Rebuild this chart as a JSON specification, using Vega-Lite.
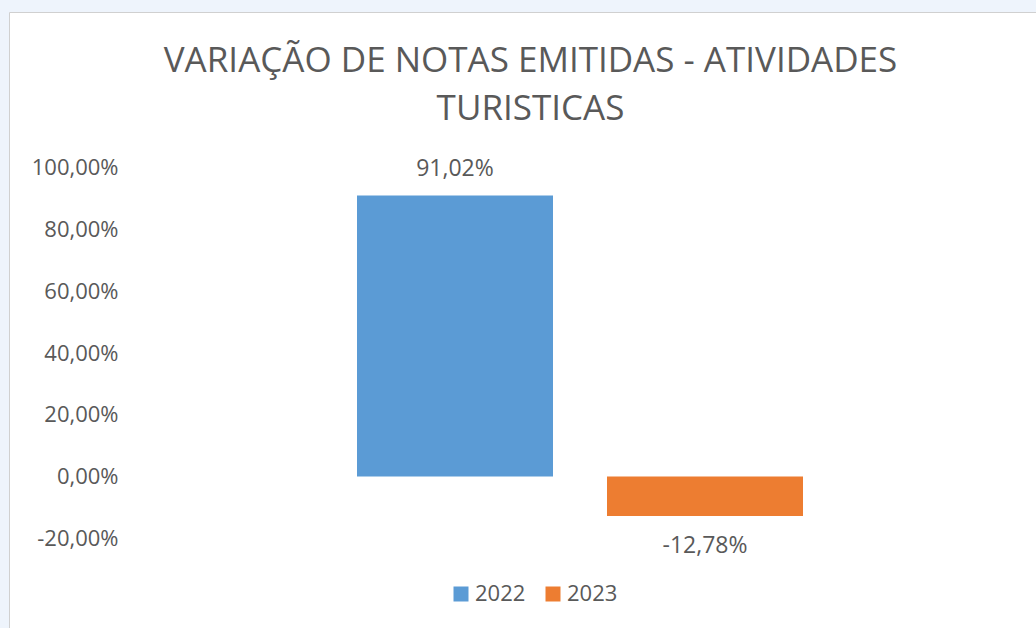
{
  "$schema": "https://vega.github.io/schema/vega-lite/v6.json",
  "width": 1027,
  "height": 616,
  "autosize": "none",
  "padding": {"left": 9, "top": 12, "right": 0, "bottom": 0},
  "background": "#eef4fc",
  "title": {
    "text": ["VARIAÇÃO DE NOTAS EMITIDAS - ATIVIDADES", "TURISTICAS"],
    "font": "Open Sans",
    "fontSize": 35,
    "fontWeight": "normal",
    "color": "#595959",
    "anchor": "middle",
    "baseline": "alphabetic",
    "lineHeight": 48,
    "offset": -143,
    "dx": 8
  },
  "config": {
    "view": {"fill": "white", "stroke": "#d0d0d0", "strokeWidth": 1},
    "locale": {
      "number": {"decimal": ",", "thousands": ".", "grouping": [3], "currency": ["R$", ""], "minus": "-"}
    }
  },
  "data": {
    "values": [
      {"ano": "2022", "variacao": 0.9102},
      {"ano": "2023", "variacao": -0.1278}
    ]
  },
  "encoding": {
    "x": {
      "field": "ano",
      "type": "nominal",
      "scale": {"paddingInner": 0.216, "paddingOuter": 0, "range": [348, 794]},
      "axis": null
    },
    "y": {
      "field": "variacao",
      "type": "quantitative",
      "scale": {"domain": [-0.4908, 1.5047], "nice": false, "zero": false},
      "axis": {
        "values": [-0.2, 0, 0.2, 0.4, 0.6, 0.8, 1.0],
        "format": ".2%",
        "grid": false,
        "domain": false,
        "ticks": false,
        "tickSize": 0,
        "labelPadding": 0,
        "offset": -109,
        "labelFont": "Open Sans",
        "labelFontSize": 22,
        "labelColor": "#595959",
        "labelFlush": false,
        "labelOverlap": false,
        "title": null
      }
    }
  },
  "layer": [
    {
      "mark": {"type": "bar"},
      "encoding": {
        "color": {
          "field": "ano",
          "type": "nominal",
          "scale": {"range": ["#5b9bd5", "#ed7d31"]},
          "legend": {
            "title": null,
            "orient": "none",
            "legendX": 441,
            "legendY": 571,
            "direction": "horizontal",
            "symbolType": "square",
            "symbolSize": 225,
            "symbolStrokeWidth": 0,
            "symbolOpacity": 1,
            "labelFont": "Open Sans",
            "labelFontSize": 22,
            "labelColor": "#595959",
            "labelOffset": 3,
            "columnPadding": 16,
            "padding": 0
          }
        }
      }
    },
    {
      "transform": [{"filter": "datum.variacao >= 0"}],
      "mark": {"type": "text", "baseline": "alphabetic", "dy": -20, "font": "Open Sans", "fontSize": 23, "color": "#595959"},
      "encoding": {"text": {"field": "variacao", "type": "quantitative", "format": ".2%"}}
    },
    {
      "transform": [{"filter": "datum.variacao < 0"}],
      "mark": {"type": "text", "baseline": "alphabetic", "dy": 37, "font": "Open Sans", "fontSize": 23, "color": "#595959"},
      "encoding": {"text": {"field": "variacao", "type": "quantitative", "format": ".2%"}}
    }
  ]
}
